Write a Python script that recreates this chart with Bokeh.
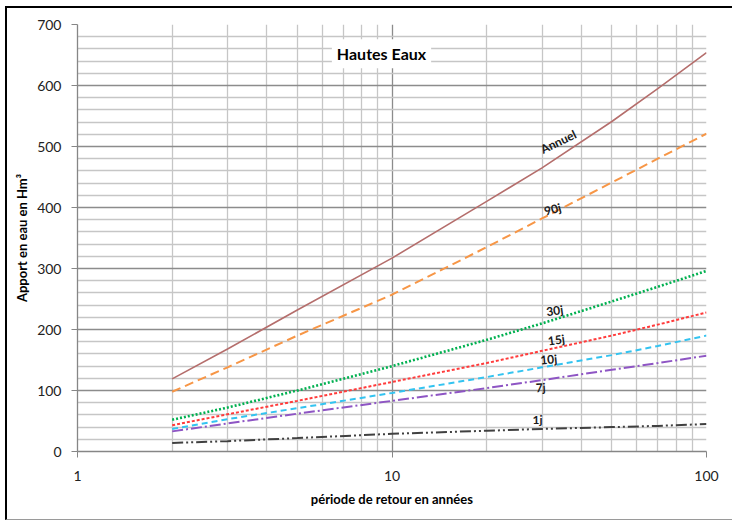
from bokeh.plotting import figure
from bokeh.models import Range1d, FixedTicker, Label
from bokeh.embed import file_html
from bokeh.resources import INLINE
from bokeh.core.properties import value

# ---- data ----
periods = [2, 3, 5, 10, 20, 30, 50, 70, 100]
annuel = [119, 168, 232, 317, 410, 465, 541, 595, 654]
j90 = [98, 138, 190, 257, 335, 382, 441, 480, 521]
j30 = [52, 72, 100, 140, 183, 210, 246, 270, 296]
j15 = [43, 61, 83, 114, 145, 165, 190, 208, 228]
j10 = [37, 53, 71, 96, 122, 138, 158, 173, 190]
j7 = [33, 46, 62, 83, 104, 117, 134, 145, 157]
j1 = [14, 17, 22, 29, 34, 37, 40, 42, 45]
series_names = ["Annuel", "90j", "30j", "15j", "10j", "7j", "1j"]
y_ticks = [0, 100, 200, 300, 400, 500, 600, 700]
x_ticks = [1, 10, 100]

# ---- label placement / styles ----
label_x = [33.8, 32.4, 32.9, 33.3, 31.5, 29.7, 29.0]
label_y = [508, 397, 231, 183, 151, 105, 52]
label_angle = [26, 15, 8, 8, 5, 3, 0]
colors = ["#B56E6C", "#F79646", "#00B050", "#FF3B3B", "#33C3F0", "#8E55C4", "#404040"]
dashes = ["solid", "9 5", "2 2", "3 2", "6 4", "11 3 2 3", "11 3 2 3 2 3"]
widths = [1.6, 2, 2.6, 2, 2, 2, 2]

FONT = "Lato"

p = figure(width=727, height=514, x_axis_type="log",
           x_range=Range1d(1, 100), y_range=Range1d(0, 700),
           output_backend="svg", toolbar_location=None,
           min_border_left=70, min_border_right=28,
           min_border_top=16, min_border_bottom=71)
p.styles = {"border-left": "2px solid black", "border-top": "2px solid black",
            "border-bottom": "1px solid #9a9a9a",
            "box-sizing": "border-box", "margin-left": "5px", "margin-top": "6px"}
p.outline_line_color = None
p.background_fill_color = "white"
p.border_fill_color = "white"

minor_x = [2, 3, 4, 5, 6, 7, 8, 9, 20, 30, 40, 50, 60, 70, 80, 90]
minor_y = [v for v in range(20, 700, 20) if v % 100 != 0]
p.xaxis.ticker = FixedTicker(ticks=x_ticks, minor_ticks=minor_x)
p.yaxis.ticker = FixedTicker(ticks=y_ticks, minor_ticks=minor_y)
p.xaxis.major_label_overrides = {t: str(t) for t in x_ticks}

for g in (p.xgrid, p.ygrid):
    g.grid_line_color = "#8C8C8C"
    g.grid_line_width = 1.3
    g.minor_grid_line_color = "#C6C6C6"
    g.minor_grid_line_width = 1.3

for ax in (p.xaxis, p.yaxis):
    ax.axis_line_color = "#868686"
    ax.axis_line_width = 1.3
    ax.major_tick_line_color = "#868686"
    ax.major_tick_out = 6
    ax.major_tick_in = 0
    ax.minor_tick_line_color = None
    ax.major_label_text_font = FONT
    ax.major_label_text_font_size = "14px"
    ax.major_label_text_color = "#222222"
    ax.axis_label_text_font = FONT
    ax.axis_label_text_font_style = "bold"
    ax.axis_label_text_font_size = "13px"
    ax.axis_label_text_color = "#000000"

p.xaxis.axis_label = "période de retour en années"
p.yaxis.axis_label = "Apport en eau en Hm³"
p.xaxis.major_label_standoff = 13
p.yaxis.major_label_standoff = 10
p.xaxis.axis_label_standoff = 7
p.yaxis.axis_label_standoff = 4

all_series = [annuel, j90, j30, j15, j10, j7, j1]
for vals, c, d, w in zip(all_series, colors, dashes, widths):
    p.line(periods, vals, line_color=c, line_dash=d, line_width=w)

p.text(x=label_x, y=label_y, text=series_names, angle=label_angle, angle_units="deg",
       text_align="center", text_baseline="middle", text_font=value(FONT),
       text_font_style="bold", text_font_size="12px", text_color="#1a1a1a")

title = Label(x=9.26, y=652, text="Hautes Eaux", text_align="center",
              text_baseline="middle", text_font=FONT, text_font_style="bold",
              text_font_size="16px", text_color="#000000",
              background_fill_color="white", padding=5)
p.add_layout(title)

open("out.html", "w").write(file_html(p, INLINE))
